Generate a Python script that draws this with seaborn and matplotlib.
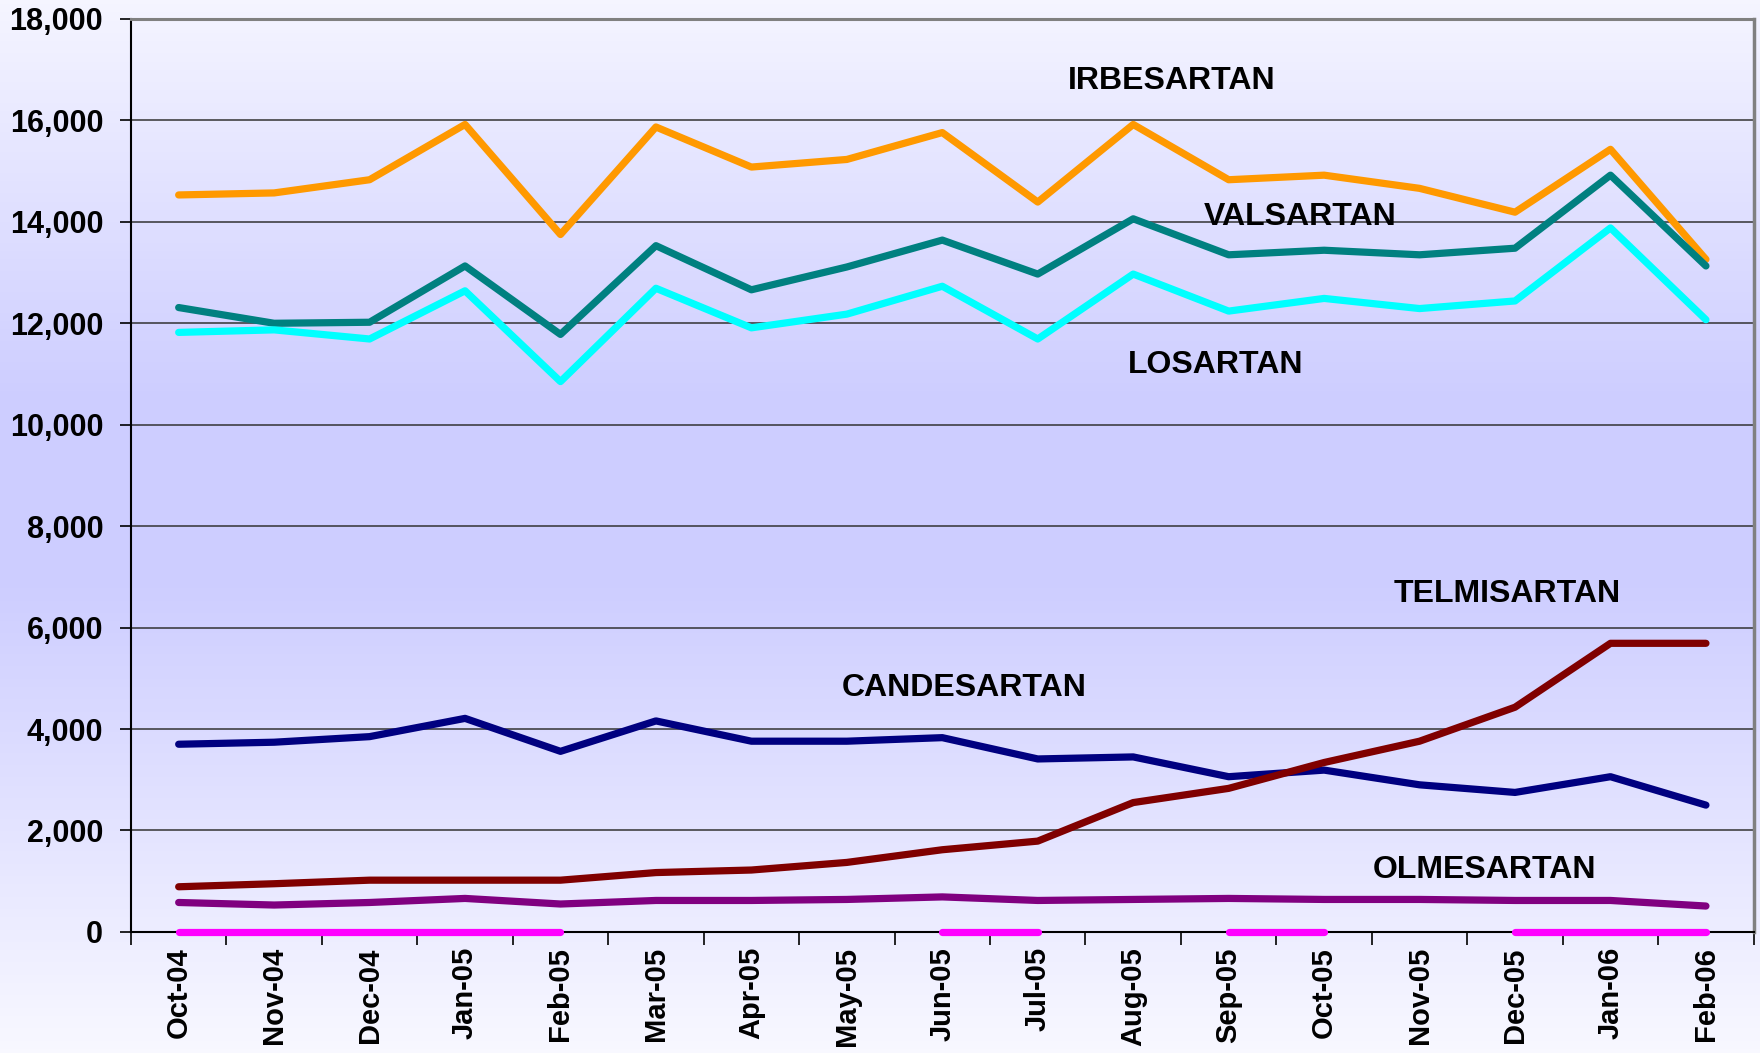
import numpy as np
import pandas as pd
import matplotlib
matplotlib.use("Agg")
import matplotlib.pyplot as plt
from matplotlib.colors import LinearSegmentedColormap
from matplotlib.ticker import FuncFormatter, FixedLocator
import seaborn as sns

# --- data (monthly volumes) ---
months = ["Oct-04", "Nov-04", "Dec-04", "Jan-05", "Feb-05", "Mar-05", "Apr-05",
          "May-05", "Jun-05", "Jul-05", "Aug-05", "Sep-05", "Oct-05", "Nov-05",
          "Dec-05", "Jan-06", "Feb-06"]

irbesartan = [14530, 14570, 14830, 15920, 13750, 15870, 15080, 15230, 15760,
              14390, 15920, 14830, 14920, 14660, 14190, 15430, 13260]
valsartan = [12310, 12000, 12020, 13130, 11780, 13530, 12660, 13110, 13640,
             12970, 14060, 13350, 13440, 13350, 13480, 14920, 13130]
losartan = [11820, 11870, 11690, 12640, 10850, 12690, 11910, 12180, 12730,
            11690, 12970, 12240, 12490, 12290, 12440, 13880, 12070]
candesartan = [3700, 3740, 3850, 4210, 3560, 4160, 3760, 3760, 3830,
               3410, 3450, 3060, 3190, 2900, 2750, 3060, 2500]
telmisartan = [890, 950, 1020, 1020, 1020, 1170, 1220, 1370, 1620,
               1790, 2550, 2830, 3340, 3760, 4430, 5690, 5690]
olmesartan = [580, 530, 580, 660, 550, 620, 620, 640, 690,
              620, 640, 660, 640, 640, 620, 620, 510]
# unlabelled near-zero series, missing in some months
other = [0, 0, 0, 0, 0, np.nan, np.nan, np.nan, 0,
         0, np.nan, 0, 0, np.nan, 0, 0, 0]

series_names = ["IRBESARTAN", "VALSARTAN", "LOSARTAN", "CANDESARTAN",
                "TELMISARTAN", "OLMESARTAN"]
series_values = [irbesartan, valsartan, losartan, candesartan, telmisartan, olmesartan]
series_colors = ["#FF9900", "#008080", "#00FFFF", "#000080", "#800000", "#800080"]

# label anchor positions (month index, value)
label_x = [10.4, 11.75, 10.86, 8.23, 13.92, 13.68]
label_y = [16780, 14100, 11180, 4800, 6660, 1220]

# --- styling ---
sns.set_style("white")
plt.rcParams["font.family"] = ["Liberation Sans", "DejaVu Sans"]
plt.rcParams["font.weight"] = "bold"
plt.rcParams["text.color"] = "black"
plt.rcParams["xtick.color"] = "black"
plt.rcParams["ytick.color"] = "black"

fig = plt.figure(figsize=(17.6, 10.53), dpi=100)

# background gradient covering the whole figure
bg = fig.add_axes([0, 0, 1, 1], zorder=-10)
grad_cmap = LinearSegmentedColormap.from_list(
    "bg", [(0.0, "#F5F5FF"), (0.38, "#CDCDFF"), (0.55, "#CDCDFF"), (1.0, "#F8F8FF")])
bg.imshow(np.linspace(0, 1, 256).reshape(-1, 1), aspect="auto", cmap=grad_cmap,
          extent=[0, 1, 0, 1], origin="upper")
bg.axis("off")

ax = fig.add_axes([0.0744, 0.115, 0.922, 0.867])
ax.set_facecolor("none")

x = np.arange(len(months))
for name, vals, col in zip(series_names, series_values, series_colors):
    df = pd.DataFrame({"x": x, "v": vals})
    sns.lineplot(data=df, x="x", y="v", color=col, linewidth=5.2, ax=ax,
                 solid_capstyle="round", zorder=3)

# gapped series: split into contiguous runs
other_df = pd.DataFrame({"x": x, "v": other})
other_df["seg"] = other_df["v"].isna().cumsum()
other_df = other_df.dropna()
sns.lineplot(data=other_df, x="x", y="v", units="seg", estimator=None,
             color="#FF00FF", linewidth=5.2, ax=ax, solid_capstyle="round",
             zorder=4, clip_on=False)

for name, lx, ly in zip(series_names, label_x, label_y):
    ax.text(lx, ly, name, ha="center", va="center", fontsize=23,
            fontweight="bold", color="black")

ax.set_xlim(-0.5, len(months) - 0.5)
ax.set_ylim(0, 18000)
ax.set_xlabel("")
ax.set_ylabel("")

ax.set_yticks(np.arange(0, 18001, 2000))
ax.yaxis.set_major_formatter(FuncFormatter(lambda v, p: f"{int(v):,}"))
ax.set_xticks(x)
ax.set_xticklabels(months, rotation=90)
ax.xaxis.set_minor_locator(FixedLocator(np.arange(-0.5, len(months), 1.0)))

ax.tick_params(axis="y", which="major", length=8, width=1.2, color="black",
               labelsize=22, pad=12, direction="out", left=True)
ax.tick_params(axis="x", which="major", length=0, labelsize=21, pad=11)
ax.tick_params(axis="x", which="minor", length=9, width=1.2, color="black",
               direction="out", bottom=True)
for lab in ax.get_xticklabels() + ax.get_yticklabels():
    lab.set_fontweight("bold")
    lab.set_color("black")

ax.yaxis.grid(True, color="#333333", linewidth=1.1)
ax.xaxis.grid(False)
ax.set_axisbelow(True)

ax.spines["left"].set_color("black")
ax.spines["left"].set_linewidth(1.5)
ax.spines["bottom"].set_color("black")
ax.spines["bottom"].set_linewidth(1.5)
ax.spines["top"].set_color("#808080")
ax.spines["top"].set_linewidth(2.2)
ax.spines["right"].set_color("#808080")
ax.spines["right"].set_linewidth(2.5)
for s in ax.spines.values():
    s.set_visible(True)

if ax.get_legend() is not None:
    ax.get_legend().remove()

fig.savefig("out.png", dpi=100)
